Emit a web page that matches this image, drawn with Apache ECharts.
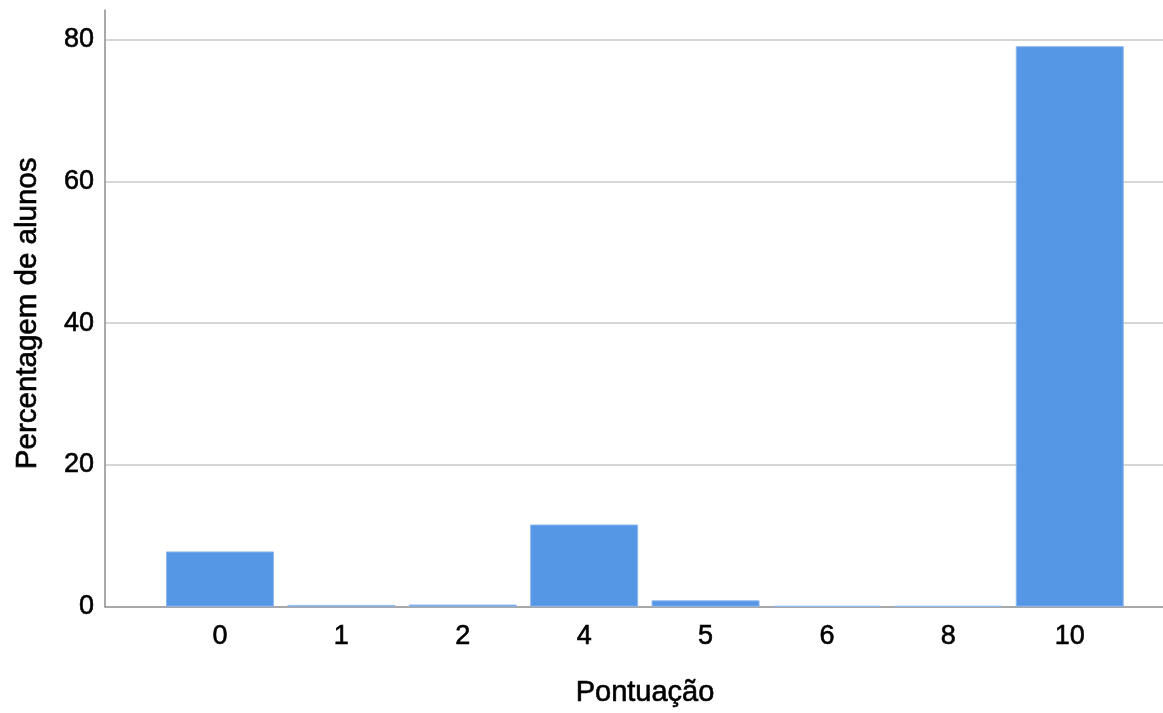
<!DOCTYPE html>
<html>
<head>
<meta charset="utf-8">
<script src="https://cdn.jsdelivr.net/npm/echarts@6/dist/echarts.min.js"></script>
<style>
html,body{margin:0;padding:0;background:#fff;}
#chart{width:1163px;height:713px;}
</style>
</head>
<body>
<div id="chart"></div>
<script>
const categories = ['0', '1', '2', '4', '5', '6', '8', '10'];
const values = [7.8, 0.25, 0.3, 11.6, 0.9, 0.1, 0.1, 79.1];
const yTicks = [0, 20, 40, 60, 80];
const xTitle = 'Pontuação';
const yTitle = 'Percentagem de alunos';

const FONT = 'Liberation Sans';
const chart = echarts.init(document.getElementById('chart'), null, {renderer: 'canvas'});
const idx = categories.map((c, i) => i);
const txt = (size) => ({color: '#000', fontFamily: FONT, fontSize: size, textBorderColor: '#000', textBorderWidth: 0.6});

chart.setOption({
  animation: false,
  backgroundColor: '#ffffff',
  grid: {left: 105, right: 0, top: 10, bottom: 103, containLabel: false},
  xAxis: {
    type: 'value',
    min: -0.947,
    max: 7.768,
    axisLine: {show: true, onZero: false, lineStyle: {color: '#8c8c8c', width: 1.5}},
    axisTick: {show: false},
    splitLine: {show: false},
    axisLabel: Object.assign({
      customValues: idx,
      formatter: v => categories[Math.round(v)],
      margin: 16
    }, txt(27)),
    name: xTitle,
    nameLocation: 'middle',
    nameGap: 72,
    nameTextStyle: Object.assign({padding: [0, 0, 0, 22]}, txt(29))
  },
  yAxis: {
    type: 'value',
    min: 0,
    max: 84.2,
    interval: 20,
    axisLine: {show: true, onZero: false, lineStyle: {color: '#8c8c8c', width: 1.5}},
    axisTick: {show: false},
    splitLine: {show: true, showMinLine: false, showMaxLine: false, lineStyle: {color: '#c8c8c8', width: 1.5}},
    axisLabel: Object.assign({
      customValues: yTicks,
      margin: 11
    }, txt(27)),
    name: yTitle,
    nameLocation: 'middle',
    nameGap: 62,
    nameTextStyle: Object.assign({padding: [0, 10, 0, 0]}, txt(29.5))
  },
  series: [{
    type: 'bar',
    data: values.map((v, i) => [i, v]),
    barWidth: 108,
    itemStyle: {color: '#5596e5', borderColor: '#8fb8ee', borderWidth: 1}
  }]
});
</script>
</body>
</html>
